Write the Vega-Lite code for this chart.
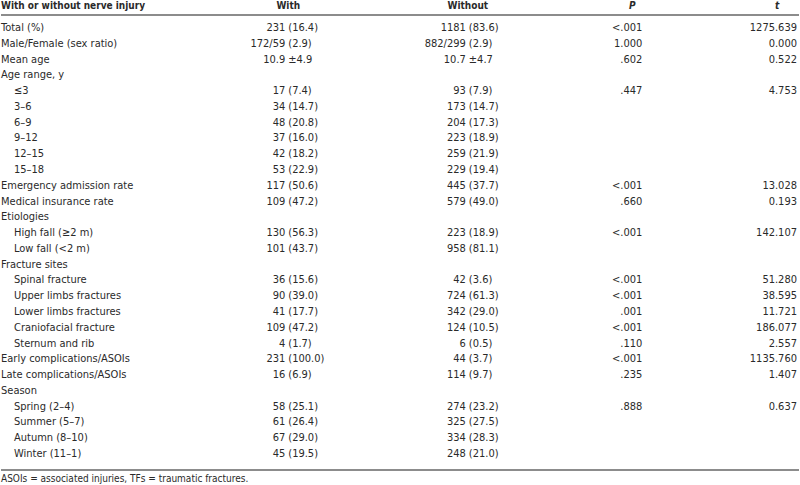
{
  "$schema": "https://vega.github.io/schema/vega-lite/v6.json",
  "width": 800,
  "height": 485,
  "padding": 0,
  "autosize": {"type": "fit", "contains": "padding"},
  "background": "white",
  "config": {"view": {"stroke": null}, "text": {"font": "'DejaVu Sans Condensed', 'Liberation Sans', sans-serif", "fontSize": 11, "color": "#2a2a2a", "baseline": "middle"}},
  "datasets": {
    "rows": [
      {"row": 1, "level": 0, "label": "Total (%)", "wn": "231", "wp": "(16.4)", "on": "1181", "op": "(83.6)", "p": "<.001", "t": "1275.639"},
      {"row": 2, "level": 0, "label": "Male/Female (sex ratio)", "wn": "172/59", "wp": "(2.9)", "on": "882/299", "op": "(2.9)", "p": "1.000", "t": "0.000"},
      {"row": 3, "level": 0, "label": "Mean age", "wn": "10.9", "wp": "±4.9", "on": "10.7", "op": "±4.7", "p": ".602", "t": "0.522"},
      {"row": 4, "level": 0, "label": "Age range, y", "wn": "", "wp": "", "on": "", "op": "", "p": "", "t": ""},
      {"row": 5, "level": 1, "label": "≤3", "wn": "17", "wp": "(7.4)", "on": "93", "op": "(7.9)", "p": ".447", "t": "4.753"},
      {"row": 6, "level": 1, "label": "3–6", "wn": "34", "wp": "(14.7)", "on": "173", "op": "(14.7)", "p": "", "t": ""},
      {"row": 7, "level": 1, "label": "6–9", "wn": "48", "wp": "(20.8)", "on": "204", "op": "(17.3)", "p": "", "t": ""},
      {"row": 8, "level": 1, "label": "9–12", "wn": "37", "wp": "(16.0)", "on": "223", "op": "(18.9)", "p": "", "t": ""},
      {"row": 9, "level": 1, "label": "12–15", "wn": "42", "wp": "(18.2)", "on": "259", "op": "(21.9)", "p": "", "t": ""},
      {"row": 10, "level": 1, "label": "15–18", "wn": "53", "wp": "(22.9)", "on": "229", "op": "(19.4)", "p": "", "t": ""},
      {"row": 11, "level": 0, "label": "Emergency admission rate", "wn": "117", "wp": "(50.6)", "on": "445", "op": "(37.7)", "p": "<.001", "t": "13.028"},
      {"row": 12, "level": 0, "label": "Medical insurance rate", "wn": "109", "wp": "(47.2)", "on": "579", "op": "(49.0)", "p": ".660", "t": "0.193"},
      {"row": 13, "level": 0, "label": "Etiologies", "wn": "", "wp": "", "on": "", "op": "", "p": "", "t": ""},
      {"row": 14, "level": 1, "label": "High fall (≥2 m)", "wn": "130", "wp": "(56.3)", "on": "223", "op": "(18.9)", "p": "<.001", "t": "142.107"},
      {"row": 15, "level": 1, "label": "Low fall (<2 m)", "wn": "101", "wp": "(43.7)", "on": "958", "op": "(81.1)", "p": "", "t": ""},
      {"row": 16, "level": 0, "label": "Fracture sites", "wn": "", "wp": "", "on": "", "op": "", "p": "", "t": ""},
      {"row": 17, "level": 1, "label": "Spinal fracture", "wn": "36", "wp": "(15.6)", "on": "42", "op": "(3.6)", "p": "<.001", "t": "51.280"},
      {"row": 18, "level": 1, "label": "Upper limbs fractures", "wn": "90", "wp": "(39.0)", "on": "724", "op": "(61.3)", "p": "<.001", "t": "38.595"},
      {"row": 19, "level": 1, "label": "Lower limbs fractures", "wn": "41", "wp": "(17.7)", "on": "342", "op": "(29.0)", "p": ".001", "t": "11.721"},
      {"row": 20, "level": 1, "label": "Craniofacial fracture", "wn": "109", "wp": "(47.2)", "on": "124", "op": "(10.5)", "p": "<.001", "t": "186.077"},
      {"row": 21, "level": 1, "label": "Sternum and rib", "wn": "4", "wp": "(1.7)", "on": "6", "op": "(0.5)", "p": ".110", "t": "2.557"},
      {"row": 22, "level": 0, "label": "Early complications/ASOIs", "wn": "231", "wp": "(100.0)", "on": "44", "op": "(3.7)", "p": "<.001", "t": "1135.760"},
      {"row": 23, "level": 0, "label": "Late complications/ASOIs", "wn": "16", "wp": "(6.9)", "on": "114", "op": "(9.7)", "p": ".235", "t": "1.407"},
      {"row": 24, "level": 0, "label": "Season", "wn": "", "wp": "", "on": "", "op": "", "p": "", "t": ""},
      {"row": 25, "level": 1, "label": "Spring (2–4)", "wn": "58", "wp": "(25.1)", "on": "274", "op": "(23.2)", "p": ".888", "t": "0.637"},
      {"row": 26, "level": 1, "label": "Summer (5–7)", "wn": "61", "wp": "(26.4)", "on": "325", "op": "(27.5)", "p": "", "t": ""},
      {"row": 27, "level": 1, "label": "Autumn (8–10)", "wn": "67", "wp": "(29.0)", "on": "334", "op": "(28.3)", "p": "", "t": ""},
      {"row": 28, "level": 1, "label": "Winter (11–1)", "wn": "45", "wp": "(19.5)", "on": "248", "op": "(21.0)", "p": "", "t": ""}
    ],
    "header": [
      {"c0": "With or without nerve injury", "c1": "With", "c2": "Without", "c3": "P", "c4": "t", "note": "ASOIs = associated injuries, TFs = traumatic fractures."}
    ]
  },
  "layer": [
    {
      "data": {"name": "header"},
      "mark": {"type": "rule", "stroke": "#666", "strokeWidth": 1.5},
      "encoding": {
        "x": {"datum": 0, "type": "quantitative", "scale": {"domain": [0, 800], "nice": false, "zero": false}, "axis": null},
        "x2": {"datum": 800},
        "y": {"datum": 0.178, "type": "quantitative", "scale": {"domain": [-0.7705, 29.897], "nice": false, "zero": false, "reverse": true}, "axis": null}
      }
    },
    {
      "data": {"name": "header"},
      "mark": {"type": "rule", "stroke": "#666", "strokeWidth": 1.5},
      "encoding": {
        "x": {"datum": 0, "type": "quantitative"},
        "x2": {"datum": 800},
        "y": {"datum": 29.01, "type": "quantitative"}
      }
    },
    {
      "data": {"name": "header"},
      "mark": {"type": "text", "align": "left", "fontWeight": "bold", "fontSize": 10, "dy": -6},
      "encoding": {"x": {"datum": 0, "type": "quantitative"}, "y": {"datum": 0, "type": "quantitative"}, "text": {"field": "c0"}}
    },
    {
      "data": {"name": "header"},
      "mark": {"type": "text", "align": "center", "fontWeight": "bold", "fontSize": 10, "dy": -6},
      "encoding": {"x": {"datum": 288, "type": "quantitative"}, "y": {"datum": 0, "type": "quantitative"}, "text": {"field": "c1"}}
    },
    {
      "data": {"name": "header"},
      "mark": {"type": "text", "align": "center", "fontWeight": "bold", "fontSize": 10, "dy": -6},
      "encoding": {"x": {"datum": 468, "type": "quantitative"}, "y": {"datum": 0, "type": "quantitative"}, "text": {"field": "c2"}}
    },
    {
      "data": {"name": "header"},
      "mark": {"type": "text", "align": "center", "fontWeight": "bold", "fontStyle": "italic", "fontSize": 10, "dy": -6},
      "encoding": {"x": {"datum": 633, "type": "quantitative"}, "y": {"datum": 0, "type": "quantitative"}, "text": {"field": "c3"}}
    },
    {
      "data": {"name": "header"},
      "mark": {"type": "text", "align": "center", "fontWeight": "bold", "fontStyle": "italic", "fontSize": 10, "dy": -6},
      "encoding": {"x": {"datum": 778, "type": "quantitative"}, "y": {"datum": 0, "type": "quantitative"}, "text": {"field": "c4"}}
    },
    {
      "data": {"name": "header"},
      "mark": {"type": "text", "align": "left", "fontSize": 10},
      "encoding": {"x": {"datum": 0, "type": "quantitative"}, "y": {"datum": 29.6, "type": "quantitative"}, "text": {"field": "note"}}
    },
    {
      "data": {"name": "rows"},
      "transform": [{"filter": "datum.level == 0"}],
      "mark": {"type": "text", "align": "left"},
      "encoding": {"x": {"datum": 0, "type": "quantitative"}, "y": {"field": "row", "type": "quantitative"}, "text": {"field": "label"}}
    },
    {
      "data": {"name": "rows"},
      "transform": [{"filter": "datum.level == 1"}],
      "mark": {"type": "text", "align": "left"},
      "encoding": {"x": {"datum": 13, "type": "quantitative"}, "y": {"field": "row", "type": "quantitative"}, "text": {"field": "label"}}
    },
    {
      "data": {"name": "rows"},
      "mark": {"type": "text", "align": "right"},
      "encoding": {"x": {"datum": 285, "type": "quantitative"}, "y": {"field": "row", "type": "quantitative"}, "text": {"field": "wn"}}
    },
    {
      "data": {"name": "rows"},
      "mark": {"type": "text", "align": "left"},
      "encoding": {"x": {"datum": 288, "type": "quantitative"}, "y": {"field": "row", "type": "quantitative"}, "text": {"field": "wp"}}
    },
    {
      "data": {"name": "rows"},
      "mark": {"type": "text", "align": "right"},
      "encoding": {"x": {"datum": 466, "type": "quantitative"}, "y": {"field": "row", "type": "quantitative"}, "text": {"field": "on"}}
    },
    {
      "data": {"name": "rows"},
      "mark": {"type": "text", "align": "left"},
      "encoding": {"x": {"datum": 469, "type": "quantitative"}, "y": {"field": "row", "type": "quantitative"}, "text": {"field": "op"}}
    },
    {
      "data": {"name": "rows"},
      "mark": {"type": "text", "align": "right"},
      "encoding": {"x": {"datum": 643, "type": "quantitative"}, "y": {"field": "row", "type": "quantitative"}, "text": {"field": "p"}}
    },
    {
      "data": {"name": "rows"},
      "mark": {"type": "text", "align": "right"},
      "encoding": {"x": {"datum": 798, "type": "quantitative"}, "y": {"field": "row", "type": "quantitative"}, "text": {"field": "t"}}
    }
  ]
}
